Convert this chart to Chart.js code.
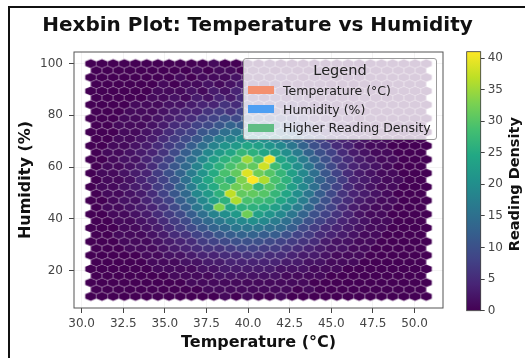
<!DOCTYPE html>
<html>
<head>
<meta charset="utf-8">
<script src="https://cdn.jsdelivr.net/npm/chart.js@4.4.1/dist/chart.umd.min.js"></script>
<style>
  html, body { margin: 0; padding: 0; background: #fff; }
  #wrap { position: relative; width: 525px; height: 358px; overflow: hidden; font-family: 'DejaVu Sans', sans-serif; }
  #frame { position: absolute; left: 8px; top: 6px; width: 600px; height: 400px;
           border-left: 2px solid #111; border-top: 2px solid #111; }
  #main { position: absolute; left: 0; top: 0; }
  #cbar { position: absolute; left: 440px; top: 0; }
  #legend { position: absolute; left: 243px; top: 58px; width: 194px; height: 82px; box-sizing: border-box;
            background: rgba(255,255,255,0.8); border: 1px solid #9a9a9a; border-radius: 3px; color: #222; }
  #legend .lg-title { height: 22px; line-height: 22px; text-align: center; font-size: 14.5px; }
  #legend .lg-row { height: 18.8px; display: flex; align-items: center; font-size: 12.5px; white-space: nowrap; }
  #legend .sw { display: inline-block; width: 26px; height: 8px; margin: 0 9px 0 4px; }
</style>
</head>
<body>
<div id="wrap">
  <div id="frame"></div>
  <canvas id="main" width="525" height="358"></canvas>
  <canvas id="cbar" width="85" height="358"></canvas>
  <div id="legend">
    <div class="lg-title">Legend</div>
    <div class="lg-row"><span class="sw" style="background:#f4906f"></span>Temperature (°C)</div>
    <div class="lg-row"><span class="sw" style="background:#4d9ff3"></span>Humidity (%)</div>
    <div class="lg-row"><span class="sw" style="background:#60bd84"></span>Higher Reading Density</div>
  </div>
</div>
<script>
(function () {
    'use strict';

    // ── Data ──────────────────────────────────────────────────────────────────
    const TITLE    = 'Hexbin Plot: Temperature vs Humidity';
    const X_TITLE  = 'Temperature (°C)';
    const Y_TITLE  = 'Humidity (%)';
    const CB_TITLE = 'Reading Density';

    const xTicks  = [30, 32.5, 35, 37.5, 40, 42.5, 45, 47.5, 50];
    const yTicks  = [20, 40, 60, 80, 100];
    const cbTicks = [0, 5, 10, 15, 20, 25, 30, 35, 40];

    // hexbin grid extent (data units) and gridsize
    const tempMin = 30.55, tempMax = 50.70;
    const humMin  = 10,    humMax  = 100;
    const gridSize = 30;

    // counts per hex row, top row (humidity 100) first;
    // even rows have 31 hexes, odd (offset) rows have 30
    const counts = [
        [0,0,0,0,0,0,0,0,0,0,0,1,0,0,1,0,1,0,0,0,0,0,0,0,0,0,0,0,0,0,0],
        [0,0,0,0,0,0,0,0,0,1,0,1,1,0,1,1,0,1,0,0,1,0,0,0,0,0,0,0,0,0],
        [0,0,0,0,0,0,0,0,1,0,1,1,1,2,1,1,1,2,1,0,1,0,0,0,0,0,0,0,0,0,0],
        [0,0,0,0,0,0,1,0,1,1,2,1,2,3,2,1,2,1,1,1,1,0,0,0,0,0,0,0,0,0],
        [0,0,0,0,0,0,1,1,1,2,1,3,2,4,3,2,3,2,3,1,1,1,1,0,0,0,0,0,0,0,0],
        [0,0,0,0,0,1,1,2,1,3,2,4,3,5,4,3,4,2,3,2,1,1,1,0,1,0,0,0,0,0],
        [0,0,0,0,1,1,1,2,2,3,4,4,6,5,7,5,5,4,4,3,2,2,1,1,1,0,0,0,0,0,0],
        [0,0,0,1,1,1,2,3,4,4,6,7,6,8,8,7,6,5,5,4,3,2,2,1,0,0,0,0,0,0],
        [0,0,0,1,1,1,2,3,4,5,7,8,10,9,11,10,9,8,7,6,4,3,2,2,1,1,0,0,0,0,0],
        [0,0,1,1,1,2,3,5,6,8,9,11,13,12,14,12,12,10,8,7,5,4,3,2,1,1,0,0,0,0],
        [0,0,0,1,1,2,3,5,7,8,11,12,15,16,17,15,15,13,12,9,7,5,4,3,2,1,1,0,0,0,0],
        [0,0,1,1,2,3,5,7,9,11,14,17,18,20,19,20,17,15,13,10,8,5,4,3,2,1,1,0,0,0],
        [0,0,1,1,2,3,5,7,9,12,15,18,21,22,24,23,21,19,16,13,10,8,5,4,2,1,1,0,0,0,0],
        [0,1,1,2,3,4,6,9,12,15,19,22,24,27,26,24,23,20,17,13,10,8,5,3,2,1,1,0,0,0],
        [0,0,1,2,2,4,6,8,12,15,19,23,26,28,35,29,40,24,21,17,13,10,7,5,3,2,1,1,0,0,0],
        [0,1,1,2,3,5,8,11,14,18,23,26,29,31,31,38,28,24,20,16,12,9,6,4,3,2,1,0,0,0],
        [0,1,1,2,3,4,7,10,13,17,21,25,29,31,39,32,30,27,23,19,15,11,8,5,3,2,1,1,0,0,0],
        [0,1,1,2,4,6,8,11,15,20,24,28,26,33,41,36,29,26,21,17,13,10,7,4,3,2,1,1,0,0],
        [0,1,1,2,3,4,7,9,13,17,22,25,29,32,33,27,30,27,23,19,15,11,8,5,3,2,1,1,0,0,0],
        [0,1,1,2,3,5,8,11,14,19,22,26,37,31,31,30,27,24,20,16,12,9,6,4,3,2,1,0,0,0],
        [0,0,1,2,2,4,6,8,12,15,19,23,26,36,29,28,27,24,21,17,13,10,7,5,3,2,1,1,0,0,0],
        [0,1,1,2,3,4,6,9,12,16,19,33,24,26,26,25,23,20,17,14,10,8,5,3,2,1,1,0,0,0],
        [0,0,1,1,2,3,5,7,9,12,15,18,20,22,32,23,21,19,16,13,10,8,6,4,2,1,1,0,0,0,0],
        [0,0,1,1,2,3,5,7,9,12,14,16,18,19,20,19,17,15,13,10,8,6,4,3,2,1,1,0,0,0],
        [0,0,0,1,1,2,3,5,7,9,11,13,14,16,16,16,15,14,12,9,7,5,4,3,2,1,1,0,0,0,0],
        [0,0,1,1,1,2,3,5,6,8,9,11,12,13,13,12,12,10,8,7,5,4,3,2,1,1,0,0,0,0],
        [0,0,0,1,1,1,2,3,4,5,7,8,9,10,10,10,9,8,7,6,5,3,2,2,1,1,0,0,0,0,0],
        [0,0,0,1,1,1,2,3,4,5,6,6,7,8,8,7,7,6,5,4,3,2,2,1,1,0,0,0,0,0],
        [0,0,0,0,0,1,1,2,2,3,4,4,5,5,6,6,5,5,4,3,3,2,1,1,1,0,0,0,0,0,0],
        [0,0,0,0,0,1,1,1,2,2,3,3,4,4,4,4,4,3,3,2,2,1,1,1,0,0,0,0,0,0],
        [0,0,0,0,0,0,1,1,1,1,2,2,3,3,3,3,3,2,2,2,1,1,1,0,0,0,0,0,0,0,0],
        [0,0,0,0,0,0,0,1,1,1,1,2,2,2,2,2,2,1,1,1,1,0,0,0,0,0,0,0,0,0],
        [0,0,0,0,0,0,0,0,0,1,1,1,1,1,1,1,1,1,1,1,0,0,0,0,0,0,0,0,0,0,0],
        [0,0,0,0,0,0,0,0,0,0,1,1,1,1,1,1,1,1,0,1,0,0,0,0,0,0,0,0,0,0],
        [0,0,0,0,0,0,0,0,0,0,0,0,1,0,1,0,0,1,0,0,0,0,0,0,0,0,0,0,0,0,0]
    ];

    // ── Theme ─────────────────────────────────────────────────────────────────
    const FONT  = "'DejaVu Sans', sans-serif";
    const TICK  = '#444';
    const GRID  = 'rgba(205,205,205,0.3)';

    const VIRIDIS = ['#440154','#482475','#414487','#355f8d','#2a788e','#21918c',
                     '#22a884','#44bf70','#7ad151','#bddf26','#fde725'];

    function hexToRgb(h) {
        return [parseInt(h.slice(1, 3), 16), parseInt(h.slice(3, 5), 16), parseInt(h.slice(5, 7), 16)];
    }
    const VIR_RGB = VIRIDIS.map(hexToRgb);

    function viridis(t) {
        t = Math.max(0, Math.min(1, t));
        const p = t * (VIR_RGB.length - 1);
        const i = Math.min(Math.floor(p), VIR_RGB.length - 2);
        const f = p - i;
        const a = VIR_RGB[i], b = VIR_RGB[i + 1];
        const c = a.map((v, k) => Math.round(v + (b[k] - v) * f));
        return 'rgb(' + c.join(',') + ')';
    }

    // ── Hex lattice (matplotlib hexbin layout) ────────────────────────────────
    const ny = Math.floor(gridSize / Math.sqrt(3));
    const sx = (tempMax - tempMin) / gridSize;
    const sy = (humMax - humMin) / ny;
    const vmax = Math.max(...counts.flat());

    const points = [];
    counts.forEach((row, k) => {
        const y = humMax - k * sy / 2;
        const x0 = (k % 2 === 0) ? tempMin : tempMin + sx / 2;
        row.forEach((c, i) => points.push({ x: x0 + i * sx, y: y, c: c }));
    });

    const xPad = (tempMax - tempMin) * 0.05;
    const yPad = (humMax - humMin) * 0.05;

    // hexagon point style, one cached canvas per count
    const hexCache = {};
    function hexStyle(ctx) {
        const c = ctx.raw ? ctx.raw.c : 0;
        const xs = ctx.chart.scales.x, ys = ctx.chart.scales.y;
        const w = Math.abs(xs.getPixelForValue(tempMin + sx) - xs.getPixelForValue(tempMin));
        const h = Math.abs(ys.getPixelForValue(humMin) - ys.getPixelForValue(humMin + sy));
        const key = c + '|' + w.toFixed(2) + '|' + h.toFixed(2);
        if (hexCache[key]) return hexCache[key];

        const cv = document.createElement('canvas');
        cv.width  = Math.ceil(w) + 2;
        cv.height = Math.ceil(h * 2 / 3) + 2;
        const g = cv.getContext('2d');
        const cx = cv.width / 2, cy = cv.height / 2;
        g.beginPath();
        g.moveTo(cx + w / 2, cy - h / 6);
        g.lineTo(cx + w / 2, cy + h / 6);
        g.lineTo(cx,         cy + h / 3);
        g.lineTo(cx - w / 2, cy + h / 6);
        g.lineTo(cx - w / 2, cy - h / 6);
        g.lineTo(cx,         cy - h / 3);
        g.closePath();
        g.fillStyle = viridis(c / vmax);
        g.fill();
        g.lineWidth = 0.6;
        g.strokeStyle = 'rgba(255,255,255,0.15)';
        g.stroke();
        hexCache[key] = cv;
        return cv;
    }

    // axes frame (matplotlib spines)
    const frameBox = {
        id: 'frameBox',
        afterDraw(chart) {
            const a = chart.chartArea, g = chart.ctx;
            g.save();
            g.strokeStyle = '#555';
            g.lineWidth = 1;
            g.strokeRect(a.left, a.top, a.right - a.left, a.bottom - a.top);
            g.restore();
        }
    };

    // ── Main hexbin chart ─────────────────────────────────────────────────────
    new Chart(document.getElementById('main'), {
        type: 'scatter',
        data: {
            datasets: [{
                data: points,
                pointStyle: hexStyle,
                pointRadius: 6,
                pointHoverRadius: 6
            }]
        },
        options: {
            responsive: false,
            animation: false,
            events: [],
            layout: { padding: { left: 10, right: 20, top: 0, bottom: 0 } },
            plugins: {
                legend:  { display: false },
                tooltip: { enabled: false },
                title: {
                    display: true,
                    text: TITLE,
                    color: '#111',
                    font: { family: FONT, size: 20, weight: 'bold' },
                    padding: { top: 13.5, bottom: 14.5 }
                }
            },
            scales: {
                x: {
                    type: 'linear',
                    min: tempMin - xPad,
                    max: tempMax + xPad,
                    z: 1,
                    afterBuildTicks: s => { s.ticks = xTicks.map(v => ({ value: v })); },
                    afterFit: s => { s.height = 50; },
                    border: { display: false },
                    grid: { color: GRID, lineWidth: 0.8, tickColor: TICK, tickLength: 5, tickWidth: 1 },
                    ticks: {
                        color: TICK, padding: 4,
                        font: { family: FONT, size: 12 },
                        callback: v => Number(v).toFixed(1)
                    },
                    title: {
                        display: true, text: X_TITLE, color: '#111',
                        font: { family: FONT, size: 16, weight: 'bold' },
                        padding: { top: 0, bottom: 5.4 }
                    }
                },
                y: {
                    type: 'linear',
                    min: humMin - yPad,
                    max: humMax + yPad,
                    z: 1,
                    afterBuildTicks: s => { s.ticks = yTicks.map(v => ({ value: v })); },
                    afterFit: s => { s.width = 64; },
                    border: { display: false },
                    grid: { color: GRID, lineWidth: 0.8, tickColor: TICK, tickLength: 5, tickWidth: 1 },
                    ticks: {
                        color: TICK, padding: 6,
                        font: { family: FONT, size: 12 },
                        callback: v => String(v)
                    },
                    title: {
                        display: true, text: Y_TITLE, color: '#111',
                        font: { family: FONT, size: 16, weight: 'bold' },
                        padding: { top: 6.4, bottom: 0 }
                    }
                },
                // empty right-hand gutter that leaves room for the colorbar
                gutter: {
                    type: 'linear',
                    position: 'right',
                    afterFit: s => { s.width = 62; },
                    border: { display: false },
                    grid: { display: false },
                    ticks: { display: false }
                }
            }
        },
        plugins: [frameBox]
    });

    // ── Colorbar ──────────────────────────────────────────────────────────────
    const cbDecor = {
        id: 'cbDecor',
        afterDraw(chart) {
            const a = chart.chartArea, g = chart.ctx;
            g.save();
            g.strokeStyle = '#333';
            g.lineWidth = 0.8;
            g.strokeRect(a.left, a.top, a.right - a.left, a.bottom - a.top);
            g.translate(75, (a.top + a.bottom) / 2 + 3);
            g.rotate(-Math.PI / 2);
            g.fillStyle = '#111';
            g.font = 'bold 14.5px ' + FONT;
            g.textAlign = 'center';
            g.textBaseline = 'middle';
            g.fillText(CB_TITLE, 0, 0);
            g.restore();
        }
    };

    new Chart(document.getElementById('cbar'), {
        type: 'bar',
        data: {
            labels: [''],
            datasets: [{
                data: [[0, vmax]],
                backgroundColor: ctx => {
                    const a = ctx.chart.chartArea;
                    if (!a) return VIRIDIS[0];
                    const grad = ctx.chart.ctx.createLinearGradient(0, a.bottom, 0, a.top);
                    VIRIDIS.forEach((c, i) => grad.addColorStop(i / (VIRIDIS.length - 1), c));
                    return grad;
                },
                borderWidth: 0,
                barPercentage: 1,
                categoryPercentage: 1
            }]
        },
        options: {
            responsive: false,
            animation: false,
            events: [],
            layout: { padding: { left: 26.7, right: 0, top: 51.7, bottom: 47.3 } },
            plugins: { legend: { display: false }, tooltip: { enabled: false } },
            scales: {
                x: { display: false },
                y: {
                    position: 'right',
                    min: 0,
                    max: vmax,
                    afterBuildTicks: s => { s.ticks = cbTicks.map(v => ({ value: v })); },
                    afterFit: s => { s.width = 44.3; },
                    border: { display: false },
                    grid: { drawOnChartArea: false, tickColor: TICK, tickLength: 4 },
                    ticks: { color: TICK, padding: 3, font: { family: FONT, size: 12 } }
                }
            }
        },
        plugins: [cbDecor]
    });
})();
</script>
</body>
</html>
